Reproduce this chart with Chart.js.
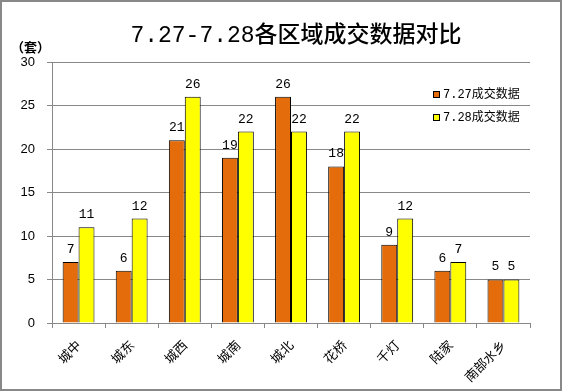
<!DOCTYPE html>
<html><head><meta charset="utf-8">
<script src="https://cdn.jsdelivr.net/npm/chart.js@4/dist/chart.umd.min.js"></script>
<style>html,body{margin:0;padding:0;background:#fff}#wrap{width:562px;height:392px;position:relative}</style>
</head><body><div id="wrap"><canvas id="c" width="562" height="392"></canvas></div>
<script>
const categories = ['城中','城东','城西','城南','城北','花桥','千灯','陆家','南部水乡'];
const series727 = [7,6,21,19,26,18,9,6,5];
const series728 = [11,12,26,22,22,22,12,7,5];
const seriesNames = ['7.27成交数据','7.28成交数据'];
const yTicks = [0,5,10,15,20,25,30];
const titleText = '7.27-7.28各区域成交数据对比';
const unitText = '（套）';

const MONO = '"Liberation Mono","Noto Sans CJK SC"';
const colors = ['#E46C0A','#FFFF00'];

const deco = {
  id:'deco',
  afterDatasetsDraw(chart){
    const ctx = chart.ctx;
    ctx.save();
    // data labels
    ctx.font = '13px ' + MONO;
    ctx.fillStyle = '#000';
    ctx.textAlign = 'center';
    ctx.textBaseline = 'bottom';
    chart.data.datasets.forEach((ds,i)=>{
      const meta = chart.getDatasetMeta(i);
      meta.data.forEach((el,j)=>{
        ctx.fillText(String(ds.data[j]), el.x, el.y - 6);
      });
    });
    // legend
    ctx.font = '12px ' + MONO;
    ctx.textAlign = 'left';
    ctx.textBaseline = 'middle';
    const lx = 433, ly = [95, 118];
    seriesNames.forEach((n,i)=>{
      ctx.fillStyle = colors[i];
      ctx.fillRect(lx+0.5, ly[i]-3.5, 6, 6);
      ctx.strokeStyle = '#000'; ctx.lineWidth = 1;
      ctx.strokeRect(lx+0.5, ly[i]-3.5, 6, 6);
      ctx.fillStyle = '#000';
      ctx.fillText(n, lx+10, ly[i]);
    });
    // title
    ctx.font = '500 23px ' + MONO;
    ctx.textAlign = 'center';
    ctx.fillText(titleText, 296, 36);
    // unit
    ctx.font = 'bold 13px "Noto Sans CJK SC"';
    ctx.textAlign = 'left';
    ctx.fillText(unitText, 11, 47);
    // border
    ctx.strokeStyle = '#888'; ctx.lineWidth = 2;
    ctx.strokeRect(1, 1, 560, 389);
    ctx.restore();
  }
};

new Chart(document.getElementById('c'), {
  type:'bar',
  data:{
    labels:categories,
    datasets:[
      {label:seriesNames[0], data:series727, backgroundColor:colors[0], borderColor:'#000', borderWidth:1, categoryPercentage:0.6, barPercentage:1.0},
      {label:seriesNames[1], data:series728, backgroundColor:colors[1], borderColor:'#000', borderWidth:1, categoryPercentage:0.6, barPercentage:1.0}
    ]
  },
  options:{
    responsive:false, animation:false, devicePixelRatio:1,
    layout:{padding:{top:62,left:0,right:32,bottom:0}},
    plugins:{legend:{display:false}, title:{display:false}, tooltip:{enabled:false}},
    scales:{
      x:{
        grid:{display:true, drawOnChartArea:false, color:'#888', tickLength:5, offset:true},
        border:{color:'#888'},
        ticks:{maxRotation:45, minRotation:45, color:'#000', font:{family:'"Noto Sans CJK SC"', size:13}, padding:9},
        afterFit(s){ s.height = 69; }
      },
      y:{
        min:0, max:30,
        afterBuildTicks(s){ s.ticks = yTicks.map(v=>({value:v})); },
        grid:{color:'#888', tickLength:5},
        border:{color:'#888'},
        ticks:{color:'#000', font:{family:'"Liberation Sans"', size:13}, padding:12},
        afterFit(s){ s.width = 52; }
      }
    }
  },
  plugins:[deco]
});
</script></body></html>
